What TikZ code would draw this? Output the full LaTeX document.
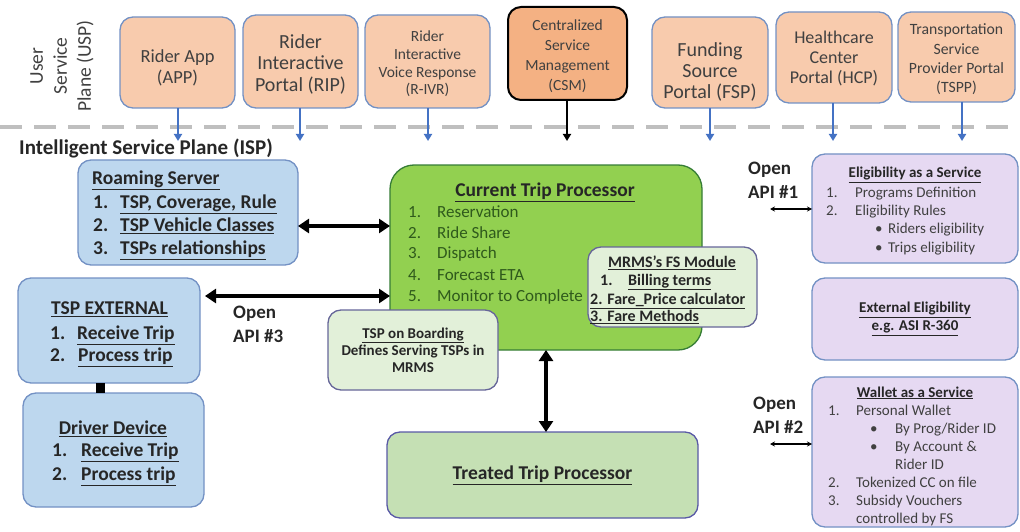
\documentclass[tikz,border=0pt]{standalone}
\usepackage{fontspec}
\setmainfont{Carlito}
\usetikzlibrary{arrows.meta}
\definecolor{peach}{HTML}{F8CBAD}
\definecolor{peachdark}{HTML}{F4B183}
\definecolor{bordblue}{HTML}{7391C4}
\definecolor{lblue}{HTML}{BDD7EE}
\definecolor{lgreen}{HTML}{92D050}
\definecolor{pgreen}{HTML}{E2F0D9}
\definecolor{mgreen}{HTML}{C5E0B4}
\definecolor{lpurple}{HTML}{E6D9F2}
\definecolor{arrblue}{HTML}{4472C4}
\definecolor{txtgray}{HTML}{404040}
\definecolor{dkgreen}{HTML}{2F5A1C}
\definecolor{dashgray}{HTML}{BFBFBF}
\newcommand\fsz[2]{\fontsize{#1}{#2}\selectfont}
\begin{document}
\begin{tikzpicture}[x=1pt,y=-1pt,
  box/.style={draw=bordblue, line width=1.3pt, rounded corners=13pt, inner sep=0pt, outer sep=0pt},
  topbox/.style={box, fill=peach},
  toptxt/.style={inner sep=0pt, align=center, text=txtgray},
  bluebox/.style={box, fill=lblue},
  palebox/.style={box, fill=pgreen, draw=gray!80!blue},
  purplebox/.style={box, fill=lpurple},
  lbl/.style={inner sep=0pt, anchor=base west},
  clbl/.style={inner sep=0pt, anchor=base},
  usparrow/.style={draw=arrblue, line width=1.8pt, -{Triangle[length=7pt,width=8pt]}},
  dblarrow/.style={line width=3.5pt, {Triangle[length=11pt,width=14pt]}-{Triangle[length=11pt,width=14pt]}},
  apiarrow/.style={line width=1.2pt, {Stealth[length=5pt,width=5pt]}-{Stealth[length=5pt,width=5pt]}},
  apilbl/.style={inner sep=0pt, anchor=west, align=left, font=\bfseries\fsz{19}{24}, text=black!85}
]
\useasboundingbox (0,0) rectangle (1020,532);

% dashed separator
\draw[dashgray, line width=3.5pt, dash pattern=on 22pt off 12pt] (0,127) -- (1020,127);

% USP label
\node[rotate=90, align=center, font=\fsz{19.5}{24}, text=txtgray] (usp) at (62,66) {User\\Service\\Plane (USP)};

% top boxes
\node[topbox, minimum width=115pt, minimum height=91pt] (app) at (177.5,62.5) {};
\node[topbox, minimum width=115pt, minimum height=93pt] (rip) at (300.5,61.5) {};
\node[topbox, minimum width=125pt, minimum height=93pt] (rivr) at (427.5,61.5) {};
\node[topbox, fill=peachdark, draw=black, line width=2pt, minimum width=119pt, minimum height=93pt] (csm) at (567.5,53.5) {};
\node[topbox, minimum width=116pt, minimum height=91pt] (fsp) at (710,62.5) {};
\node[topbox, minimum width=116pt, minimum height=91pt] (hcp) at (834,57.5) {};
\node[topbox, minimum width=117pt, minimum height=90pt] (tspp) at (956.5,57) {};
\node[toptxt, font=\fsz{18.5}{21}] (appT) at (177.5,68) {Rider App\\(APP)};
\node[toptxt, font=\fsz{20}{21.5}] (ripT) at (300.5,64) {Rider\\Interactive\\Portal (RIP)};
\node[toptxt, font=\fsz{15.5}{17.7}] (rivrT) at (427.5,64) {Rider\\Interactive\\Voice Response\\(R-IVR)};
\node[toptxt, font=\fsz{15.5}{20}] (csmT) at (567.5,56) {Centralized\\Service\\Management\\(CSM)};
\node[toptxt, font=\fsz{20}{21}] (fspT) at (710,71.5) {Funding\\Source\\Portal (FSP)};
\node[toptxt, font=\fsz{18}{20}] (hcpT) at (834,58.5) {Healthcare\\Center\\Portal (HCP)};
\node[toptxt, font=\fsz{15.7}{19.3}] (tsppT) at (956.5,59.5) {Transportation\\Service\\Provider Portal\\(TSPP)};

% arrow ends below the separator
\coordinate (appE) at (178,141);
\coordinate (ripE) at (300,141);
\coordinate (rivrE) at (428,141);
\coordinate (csmE) at (567,141);
\coordinate (fspE) at (710,141);
\coordinate (hcpE) at (833,141);
\coordinate (tsppE) at (962,141);
\draw[usparrow] (app.south -| appE) -- (appE);
\draw[usparrow] (rip.south -| ripE) -- (ripE);
\draw[usparrow] (rivr.south -| rivrE) -- (rivrE);
\draw[line width=1.8pt, -{Triangle[length=7pt,width=8pt]}] (csm.south -| csmE) -- (csmE);
\draw[usparrow] (fsp.south -| fspE) -- (fspE);
\draw[usparrow] (hcp.south -| hcpE) -- (hcpE);
\draw[usparrow] (tspp.south -| tsppE) -- (tsppE);

% ISP title
\node[anchor=west, inner sep=0pt, font=\bfseries\fsz{21}{24}, text=black!85] (isp) at (19,148) {Intelligent Service Plane (ISP)};

% Roaming server
\node[bluebox, minimum width=220pt, minimum height=105pt] (roam) at (188,212.5) {};
\begin{scope}[font=\bfseries\fsz{19.5}{23}, text=black!85]
\node[lbl] (roamT) at (92,184.4) {\underline{Roaming Server}};
\node[lbl] (roam1n) at (93,208.4) {1.};
\node[lbl] (roam1) at (120,208.4) {\underline{TSP, Coverage, Rule}};
\node[lbl] (roam2n) at (93,231.4) {2.};
\node[lbl] (roam2) at (120,231.4) {\underline{TSP Vehicle Classes}};
\node[lbl] (roam3n) at (93,254.4) {3.};
\node[lbl] (roam3) at (120,254.4) {\underline{TSPs relationships}};
\end{scope}

% TSP external
\node[bluebox, minimum width=182pt, minimum height=105pt] (tspext) at (109,330.5) {};
\begin{scope}[font=\bfseries\fsz{19.5}{23}, text=black!85]
\node[clbl] (tspextT) at (109.5,314.4) {\underline{TSP EXTERNAL}};
\node[lbl] (tspext1n) at (50,339.4) {1.};
\node[lbl] (tspext1) at (77,339.4) {\underline{Receive Trip}};
\node[lbl] (tspext2n) at (50,361.4) {2.};
\node[lbl] (tspext2) at (78,361.4) {\underline{Process trip}};
\end{scope}

% Driver device
\node[bluebox, minimum width=181pt, minimum height=114pt] (driver) at (113.5,450) {};
\begin{scope}[font=\bfseries\fsz{19.5}{23}, text=black!85]
\node[clbl] (driverT) at (113,434.4) {\underline{Driver Device}};
\node[lbl] (driver1n) at (52,456.4) {1.};
\node[lbl] (driver1) at (81,456.4) {\underline{Receive Trip}};
\node[lbl] (driver2n) at (52,480.4) {2.};
\node[lbl] (driver2) at (81,480.4) {\underline{Process trip}};
\end{scope}
\draw[line width=9pt] ([xshift=-9pt]tspext.south) -- ([xshift=-9pt]tspext.south |- driver.north);

% Current trip processor
\node[box, fill=lgreen, draw=gray!60!green!70!black, rounded corners=24pt, minimum width=312pt, minimum height=185pt] (ctp) at (546,257.5) {};
\node[clbl, font=\bfseries\fsz{19.5}{23}, text=black!85] (ctpT) at (545,196.4) {\underline{Current Trip Processor}};
\begin{scope}[font=\fsz{17}{21}, text=dkgreen]
\node[lbl] (c1n) at (408,217.6) {1.};
\node[lbl] (c1) at (437,217.6) {Reservation};
\node[lbl] (c2n) at (408,238.6) {2.};
\node[lbl] (c2) at (437,238.6) {Ride Share};
\node[lbl] (c3n) at (408,258.6) {3.};
\node[lbl] (c3) at (437,258.6) {Dispatch};
\node[lbl] (c4n) at (408,280.6) {4.};
\node[lbl] (c4) at (437,280.6) {Forecast ETA};
\node[lbl] (c5n) at (408,301.6) {5.};
\node[lbl] (c5) at (437,301.6) {Monitor to Complete};
\end{scope}

% FS module
\node[palebox, minimum width=169pt, minimum height=80pt] (fs) at (672.5,287) {};
\begin{scope}[font=\bfseries\fsz{16}{18}, text=black!85]
\node[clbl] (fsT) at (672,267.3) {\underline{MRMS's FS Module}};
\node[lbl] (fs1n) at (600,285.3) {1.};
\node[lbl] (fs1) at (628,285.3) {\underline{Billing terms}};
\node[lbl] (fs2) at (590,304.3) {\underline{2. Fare\_Price calculator}};
\node[lbl] (fs3) at (590,321.3) {\underline{3. Fare Methods}};
\end{scope}

% TSP on boarding
\node[palebox, minimum width=170pt, minimum height=80pt, align=center, font=\bfseries\fsz{15}{17}, text=black!85] (onb) at (413,350) {\underline{TSP on Boarding}\\Defines Serving TSPs in\\MRMS};

% Treated trip processor
\node[box, fill=mgreen, draw=gray!70!blue, minimum width=311pt, minimum height=86pt, font=\bfseries\fsz{19.5}{23}, text=black!85] (ttp) at (542.5,475) {\underline{Treated Trip Processor}};

% connectors
\draw[dblarrow] ([yshift=-13.5pt]roam.east) -- ([yshift=-13.5pt]roam.east -| ctp.west);
\draw[dblarrow] ([xshift=5pt,yshift=34.5pt]tspext.east) -- ([yshift=34.5pt]tspext.east -| ctp.west);
\draw[dblarrow] ([xshift=3.5pt]ctp.south -| ttp.north) -- ([xshift=3.5pt]ttp.north);

\node[apilbl] (api3) at (233,324) {Open\\API \#3};

% Eligibility
\node[purplebox, minimum width=206pt, minimum height=109pt] (elig) at (915,208.5) {};
\node[clbl, font=\bfseries\fsz{15}{18}, text=black!85] (eligT) at (915,178) {\underline{Eligibility as a Service}};
\begin{scope}[font=\fsz{15}{18}, text=txtgray]
\node[lbl] (e1n) at (826,197) {1.};
\node[lbl] (e1) at (855,197) {Programs Definition};
\node[lbl] (e2n) at (826,215) {2.};
\node[lbl] (e2) at (855,215) {Eligibility Rules};
\node[lbl] (e3b) at (875,233) {\textbullet};
\node[lbl] (e3) at (888,233) {Riders eligibility};
\node[lbl] (e4b) at (875,252) {\textbullet};
\node[lbl] (e4) at (888,252) {Trips eligibility};
\end{scope}
\node[apilbl] (api1) at (748,180) {Open\\API \#1};
\coordinate (api1E) at (770,209);
\draw[apiarrow] (api1E) -- (api1E -| elig.west);

% External eligibility
\node[purplebox, minimum width=206pt, minimum height=82pt, align=center, font=\bfseries\fsz{15}{18}, text=black!85] (ext) at (915,319) {\underline{External Eligibility}\\\underline{e.g. ASI R-360}};

% Wallet
\node[purplebox, minimum width=206pt, minimum height=150pt] (wallet) at (915,452) {};
\node[clbl, font=\bfseries\fsz{15}{18}, text=black!85] (walletT) at (915,397) {\underline{Wallet as a Service}};
\begin{scope}[font=\fsz{15}{18}, text=txtgray]
\node[lbl] (w1n) at (828,415) {1.};
\node[lbl] (w1) at (856,415) {Personal Wallet};
\node[lbl] (w2b) at (870,433) {\textbullet};
\node[lbl] (w2) at (895,433) {By Prog/Rider ID};
\node[lbl] (w3b) at (870,451) {\textbullet};
\node[lbl] (w3) at (895,451) {By Account \&};
\node[lbl] (w3c) at (895,469) {Rider ID};
\node[lbl] (w4n) at (828,487) {2.};
\node[lbl] (w4) at (856,487) {Tokenized CC on file};
\node[lbl] (w5n) at (828,505) {3.};
\node[lbl] (w5) at (856,505) {Subsidy Vouchers};
\node[lbl] (w5c) at (856,523) {controlled by FS};
\end{scope}
\node[apilbl] (api2) at (753,415) {Open\\API \#2};
\coordinate (api2E) at (770,444);
\draw[apiarrow] (api2E) -- (api2E -| wallet.west);
\end{tikzpicture}
\end{document}
